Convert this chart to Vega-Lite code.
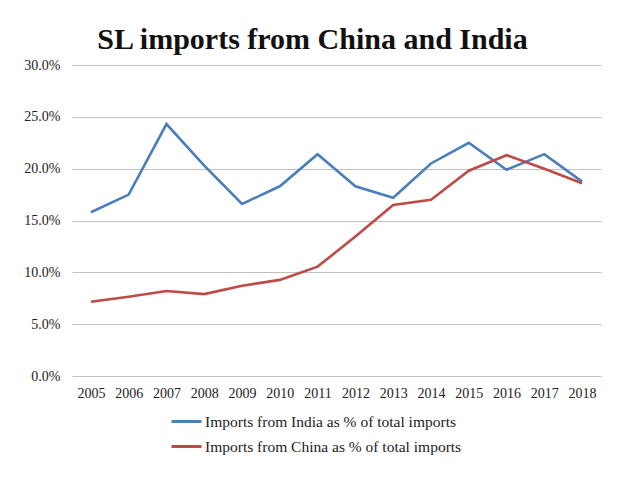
{
  "$schema": "https://vega.github.io/schema/vega-lite/v6.json",
  "width": 529,
  "height": 311,
  "autosize": {"type": "none"},
  "padding": {"left": 72, "top": 65, "right": 29, "bottom": 101},
  "background": "white",
  "title": {
    "text": "SL imports from China and India",
    "font": "Liberation Serif",
    "fontSize": 30,
    "fontWeight": "bold",
    "color": "#111111",
    "anchor": "middle",
    "dx": -24,
    "offset": 3
  },
  "data": {
    "values": [
      {"year": "2005", "series": "Imports from India as % of total imports", "value": 0.158},
      {"year": "2006", "series": "Imports from India as % of total imports", "value": 0.175},
      {"year": "2007", "series": "Imports from India as % of total imports", "value": 0.243},
      {"year": "2008", "series": "Imports from India as % of total imports", "value": 0.203},
      {"year": "2009", "series": "Imports from India as % of total imports", "value": 0.166},
      {"year": "2010", "series": "Imports from India as % of total imports", "value": 0.183},
      {"year": "2011", "series": "Imports from India as % of total imports", "value": 0.214},
      {"year": "2012", "series": "Imports from India as % of total imports", "value": 0.183},
      {"year": "2013", "series": "Imports from India as % of total imports", "value": 0.172},
      {"year": "2014", "series": "Imports from India as % of total imports", "value": 0.205},
      {"year": "2015", "series": "Imports from India as % of total imports", "value": 0.225},
      {"year": "2016", "series": "Imports from India as % of total imports", "value": 0.199},
      {"year": "2017", "series": "Imports from India as % of total imports", "value": 0.214},
      {"year": "2018", "series": "Imports from India as % of total imports", "value": 0.1875},
      {"year": "2005", "series": "Imports from China as % of total imports", "value": 0.0717},
      {"year": "2006", "series": "Imports from China as % of total imports", "value": 0.0765},
      {"year": "2007", "series": "Imports from China as % of total imports", "value": 0.082},
      {"year": "2008", "series": "Imports from China as % of total imports", "value": 0.079},
      {"year": "2009", "series": "Imports from China as % of total imports", "value": 0.087},
      {"year": "2010", "series": "Imports from China as % of total imports", "value": 0.0927},
      {"year": "2011", "series": "Imports from China as % of total imports", "value": 0.1055},
      {"year": "2012", "series": "Imports from China as % of total imports", "value": 0.1345},
      {"year": "2013", "series": "Imports from China as % of total imports", "value": 0.165},
      {"year": "2014", "series": "Imports from China as % of total imports", "value": 0.170},
      {"year": "2015", "series": "Imports from China as % of total imports", "value": 0.198},
      {"year": "2016", "series": "Imports from China as % of total imports", "value": 0.213},
      {"year": "2017", "series": "Imports from China as % of total imports", "value": 0.200},
      {"year": "2018", "series": "Imports from China as % of total imports", "value": 0.186}
    ]
  },
  "mark": {"type": "line", "strokeWidth": 2.6},
  "encoding": {
    "x": {
      "field": "year",
      "type": "ordinal",
      "scale": {"type": "point", "padding": 0.5},
      "axis": {
        "title": null,
        "labelAngle": 0,
        "ticks": false,
        "domain": false,
        "grid": false,
        "labelPadding": 10,
        "labelFont": "Liberation Serif",
        "labelFontSize": 14,
        "labelColor": "#222222"
      }
    },
    "y": {
      "field": "value",
      "type": "quantitative",
      "scale": {"domain": [0, 0.3]},
      "axis": {
        "title": null,
        "values": [0, 0.05, 0.1, 0.15, 0.2, 0.25, 0.3],
        "format": ".1%",
        "ticks": false,
        "domain": false,
        "grid": true,
        "gridColor": "#bfbfbf",
        "gridWidth": 1.2,
        "labelPadding": 12,
        "labelFont": "Liberation Serif",
        "labelFontSize": 14,
        "labelColor": "#222222"
      }
    },
    "color": {
      "field": "series",
      "type": "nominal",
      "scale": {
        "domain": ["Imports from India as % of total imports", "Imports from China as % of total imports"],
        "range": ["#4A7EBB", "#BE4B48"]
      },
      "legend": {
        "title": null,
        "orient": "none",
        "legendX": 98,
        "legendY": 340,
        "direction": "vertical",
        "symbolType": "stroke",
        "symbolSize": 900,
        "symbolStrokeWidth": 3,
        "labelFont": "Liberation Serif",
        "labelFontSize": 15.5,
        "labelLimit": 500,
        "labelColor": "#222222",
        "labelOffset": 2,
        "rowPadding": -4
      }
    }
  },
  "config": {
    "view": {"stroke": null}
  }
}
